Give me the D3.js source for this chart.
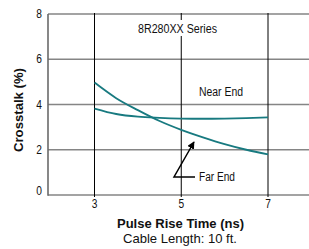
<!DOCTYPE html>
<html>
<head>
<meta charset="utf-8">
<script src="https://cdn.jsdelivr.net/npm/d3@7"></script>
<style>
  body { margin: 0; background: #fff; }
  text { font-family: "Liberation Sans Narrow", "Arial Narrow", "Liberation Sans", sans-serif; fill: #111; }
</style>
</head>
<body>
<svg width="309" height="249"></svg>
<script>
const svg = d3.select('svg');

// data
const riseTimes = [3, 3.5, 4, 4.5, 5, 5.5, 6, 6.5, 7];
const nearEnd = [3.82, 3.58, 3.46, 3.41, 3.38, 3.37, 3.38, 3.40, 3.43];
const farEnd = [4.97, 4.28, 3.75, 3.27, 2.88, 2.55, 2.25, 2.00, 1.80];
const xTicks = [3, 5, 7];
const yTicks = [0, 2, 4, 6, 8];

const plotLeft = 48, plotRight = 309, plotTop = 14, plotBottom = 195;

const x = d3.scaleLinear().domain([3, 7]).range([94.5, 268]);
const y = d3.scaleLinear().domain([0, 8]).range([plotBottom, plotTop]);

const teal = '#187a80';

// narrow text helper: squeeze to the width seen in the reference
function label(sel, str, w) {
  return sel.text(str)
    .attr('textLength', w)
    .attr('lengthAdjust', 'spacingAndGlyphs');
}

// horizontal grid
svg.append('g')
  .selectAll('line')
  .data(yTicks)
  .join('line')
  .attr('x1', plotLeft)
  .attr('x2', plotRight)
  .attr('y1', d => y(d))
  .attr('y2', d => y(d))
  .attr('stroke', '#858585')
  .attr('stroke-width', 1.6);

// vertical grid (black)
svg.append('g')
  .selectAll('line')
  .data(xTicks)
  .join('line')
  .attr('x1', d => x(d))
  .attr('x2', d => x(d))
  .attr('y1', plotTop - 1)
  .attr('y2', plotBottom + 2)
  .attr('stroke', '#000')
  .attr('stroke-width', 1);

// left axis line
svg.append('line')
  .attr('x1', plotLeft).attr('x2', plotLeft)
  .attr('y1', plotTop).attr('y2', plotBottom + 0.8)
  .attr('stroke', '#6a6a6a')
  .attr('stroke-width', 1.6);

// y tick labels
svg.append('g')
  .selectAll('text')
  .data(yTicks)
  .join('text')
  .attr('x', 42)
  .attr('y', d => d === 0 ? y(d) - 4 : y(d))
  .attr('dy', '0.35em')
  .attr('text-anchor', 'end')
  .attr('font-size', 12)
  .attr('transform-origin', d => `42 ${y(d)}`)
  .attr('transform', 'scale(0.85,1)')
  .text(d => d);

// x tick labels
svg.append('g')
  .selectAll('text')
  .data(xTicks)
  .join('text')
  .attr('x', d => x(d))
  .attr('y', 204)
  .attr('dy', '0.35em')
  .attr('text-anchor', 'middle')
  .attr('font-size', 12)
  .attr('transform-origin', d => `${x(d)} 204`)
  .attr('transform', 'scale(0.85,1)')
  .text(d => d);

// series title with white backing
const titleG = svg.append('g');
titleG.append('rect')
  .attr('x', 136).attr('y', 20).attr('width', 83).attr('height', 16)
  .attr('fill', '#fff');
label(titleG.append('text')
  .attr('x', 138).attr('y', 28.5)
  .attr('dy', '0.35em')
  .attr('font-size', 12), '8R280XX Series', 79);

// curves
const line = d3.line()
  .x((d, i) => x(riseTimes[i]))
  .y(d => y(d))
  .curve(d3.curveMonotoneX);

[nearEnd, farEnd].forEach(s => {
  svg.append('path')
    .attr('d', line(s))
    .attr('fill', 'none')
    .attr('stroke', teal)
    .attr('stroke-width', 1.8);
});

label(svg.append('text')
  .attr('x', 199).attr('y', 92)
  .attr('dy', '0.35em')
  .attr('font-size', 12), 'Near End', 44);

// far end pointer
svg.append('defs').append('marker')
  .attr('id', 'arr')
  .attr('viewBox', '0 0 10 10')
  .attr('refX', 9).attr('refY', 5)
  .attr('markerWidth', 5).attr('markerHeight', 5)
  .attr('orient', 'auto')
  .append('path')
  .attr('d', 'M0,0 L10,5 L0,10 z')
  .attr('fill', '#000');

svg.append('path')
  .attr('d', 'M195,177 L174,177 L194,142')
  .attr('fill', 'none')
  .attr('stroke', '#000')
  .attr('stroke-width', 1.5)
  .attr('marker-end', 'url(#arr)');

label(svg.append('text')
  .attr('x', 199).attr('y', 177)
  .attr('dy', '0.35em')
  .attr('font-size', 12), 'Far End', 36);

// axis titles
label(svg.append('text')
  .attr('x', 117).attr('y', 223)
  .attr('dy', '0.35em')
  .attr('font-size', 13.5)
  .attr('font-weight', 'bold'), 'Pulse Rise Time (ns)', 127);

label(svg.append('text')
  .attr('x', 123).attr('y', 238)
  .attr('dy', '0.35em')
  .attr('font-size', 13), 'Cable Length: 10 ft.', 114);

label(svg.append('text')
  .attr('transform', 'translate(18.5,152) rotate(-90)')
  .attr('dy', '0.35em')
  .attr('font-size', 13.5)
  .attr('font-weight', 'bold'), 'Crosstalk (%)', 84);
</script>
</body>
</html>
